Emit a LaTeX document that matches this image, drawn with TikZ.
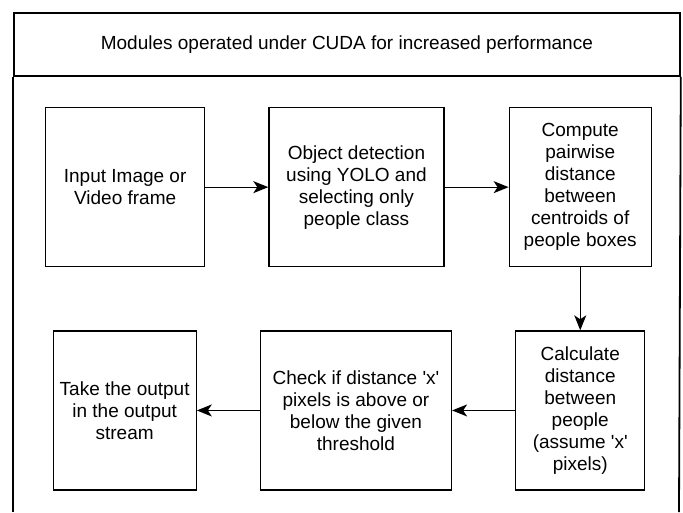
\documentclass[tikz,border=0pt]{standalone}
\usepackage{fontspec}
\setmainfont{Liberation Sans}
\usepackage{tikz}
\usetikzlibrary{positioning, arrows.meta}

\begin{document}
\begin{tikzpicture}[
                x=1pt, y=-1pt,
                node distance=63pt,
                font=\fontsize{19}{22}\selectfont,
                >={Stealth[length=15pt, width=12pt, inset=4pt]},
                stepbox/.style={draw, line width=1.3pt, minimum height=159pt, inner sep=0pt, align=center},
                frame/.style={draw, line width=1.8pt}
                ]
                \useasboundingbox (0,0) rectangle (683,512);

                % 외곽 틀 (헤더)
                \node[frame, minimum width=666pt, minimum height=63pt, inner sep=0pt, anchor=north west] (header) at (13,12) {Modules operated under CUDA for increased performance};
                \coordinate (leftend) at (13,512);
                \coordinate (rightend) at (679,512);
                \draw[line width=1.8pt] (header.south west) -- (leftend);
                \draw[line width=1.8pt] (header.south east) -- (rightend);

                % 위쪽 줄
                \node[stepbox, minimum width=159pt, anchor=north west] (input) at (45,107) {Input Image or\\Video frame};
                \node[stepbox, minimum width=175pt] (detect) [right=of input] {Object detection\\using YOLO and\\selecting only\\people class};
                \node[stepbox, minimum width=142pt] (pairwise) [right=64pt of detect] {Compute\\pairwise\\distance\\between\\centroids of\\people boxes};

                % 아래쪽 줄
                \node[stepbox, minimum width=129pt] (calc) [below=of pairwise] {Calculate\\distance\\between\\people\\(assume \textquotesingle x\textquotesingle\\pixels)};
                \node[stepbox, minimum width=191pt] (check) [left=of calc] {Check if distance \textquotesingle x\textquotesingle\\pixels is above or\\below the given\\threshold};
                \node[stepbox, minimum width=143pt] (output) [left=of check] {Take the output\\in the output\\stream};

                % 에지 연결
                \draw[->, line width=1.3pt] (input) -- (detect);
                \draw[->, line width=1.3pt] (detect) -- (pairwise);
                \draw[->, line width=1.3pt] (pairwise) -- (calc);
                \draw[->, line width=1.3pt] (calc) -- (check);
                \draw[->, line width=1.3pt] (check) -- (output);
            \end{tikzpicture}
\end{document}
